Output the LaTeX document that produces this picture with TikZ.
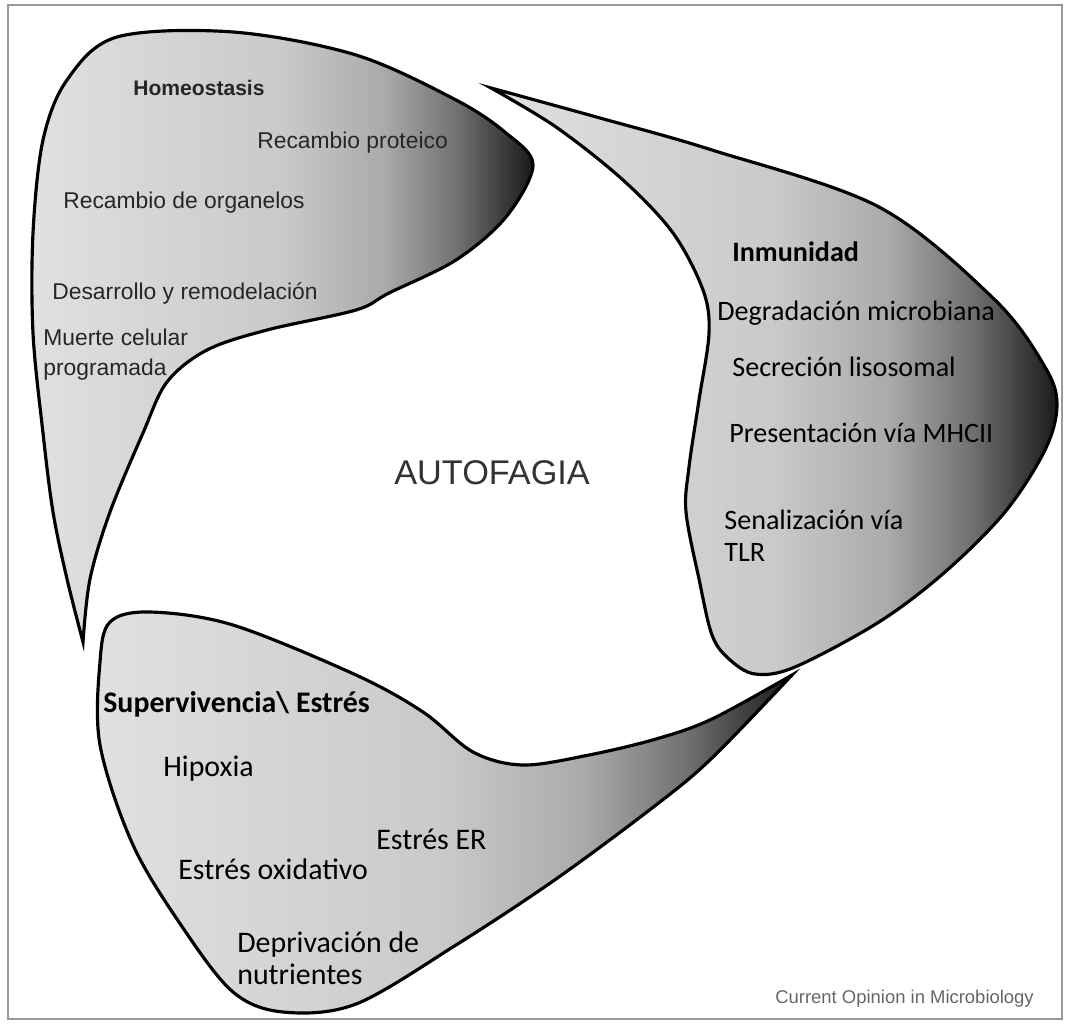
\documentclass[tikz,border=0pt]{standalone}
\usepackage{fontspec}
\setmainfont{Liberation Sans}
\newfontfamily\calibri{Carlito}
\pgfdeclarehorizontalshading{lobeshade}{100bp}{color(0bp)=(black!12); color(25bp)=(black!12); color(50bp)=(black!21); color(60bp)=(black!33); color(67.5bp)=(black!56); color(75bp)=(black!90); color(100bp)=(black!90)}
\tikzset{
  lobe/.style={draw=black, line width=1.8pt, shade, shading=lobeshade},
  txtA/.style={anchor=west, align=left, inner xsep=0pt, text=black!85, font=\fontsize{13}{17}\selectfont},
  txtB/.style={anchor=west, align=left, inner xsep=0pt, font=\calibri\fontsize{16}{18}\selectfont},
  txtC/.style={anchor=west, align=left, inner xsep=0pt, font=\calibri\fontsize{17}{18}\selectfont},
}

\begin{document}
\begin{tikzpicture}[x=0.02cm, y=-0.02cm]
\useasboundingbox (0,0) rectangle (1068,1024);
\draw[black!40, line width=1.1pt] (8,5) rectangle (1062,1019);

\draw[lobe] plot[smooth, tension=0.55] coordinates {(83,642) (67,579) (53,512) (43,433) (33,333) (33,233) (43,140) (67,80) (117,37) (233,32) (356,55) (456,100) (506,133) (533,165) (506,217) (456,260) (389,293) (356,310) (267,330) (207,350) (167,382) (143,433) (110,512) (90,579) (83,642)} -- cycle;
\draw[lobe] plot[smooth, tension=0.55] coordinates {(491,88) (600,118) (712,150) (879,207) (995,300) (1045,367) (1057,405) (1045,450) (1005,512) (945,572) (879,622) (795,667) (755,674) (729,659) (712,635) (699,579) (686,512) (689,467) (699,400) (709,333) (703,290) (673,233) (623,180) (556,127) (491,88)} -- cycle;
\draw[lobe] plot[smooth, tension=0.55] coordinates {(792,675) (712,719) (656,739) (589,755) (523,765) (473,752) (423,712) (356,675) (233,625) (150,612) (110,622) (100,662) (100,745) (133,845) (183,928) (233,992) (283,1012) (356,1004) (456,945) (556,879) (656,805) (712,758) (792,675)} -- cycle;

\node[txtA, font=\bfseries\fontsize{12}{17}\selectfont] (homeo) at (133,88) {Homeostasis};
\node[txtA] (protein) at (257,143) {Recambio proteico};
\node[txtA] (organel) at (63,203) {Recambio de organelos};
\node[txtA] (desarr) at (52,293) {Desarrollo y remodelación};
\node[txtA] (muerte) at (43,355) {Muerte celular\\programada};

\node[txtB, font=\calibri\bfseries\fontsize{16}{18}\selectfont] (inmun) at (732,252) {Inmunidad};
\node[txtB] (degrad) at (717,313) {Degradación microbiana};
\node[txtB] (secre) at (732,367) {Secreción lisosomal};
\node[txtB] (present) at (729,433) {Presentación vía MHCII};
\node[txtB] (senal) at (724,536) {Senalización vía\\TLR};

\node[txtC, font=\calibri\bfseries\fontsize{17}{18}\selectfont] (superv) at (103,704) {Supervivencia\textbackslash{} Estrés};
\node[txtC] (hipox) at (163,769) {Hipoxia};
\node[txtC] (estrER) at (376,839) {Estrés ER};
\node[txtC] (oxid) at (178,869) {Estrés oxidativo};
\node[txtC] (depriv) at (237,958) {Deprivación de\\nutrientes};

\node[anchor=west, inner xsep=0pt, text=black!80, font=\fontsize{19.5}{22}\selectfont] (autofagia) at (394,473) {AUTOFAGIA};
\node[anchor=west, inner xsep=0pt, text=black!60, font=\fontsize{10.5}{12}\selectfont] (credit) at (775,999) {Current Opinion in Microbiology};
\end{tikzpicture}
\end{document}
